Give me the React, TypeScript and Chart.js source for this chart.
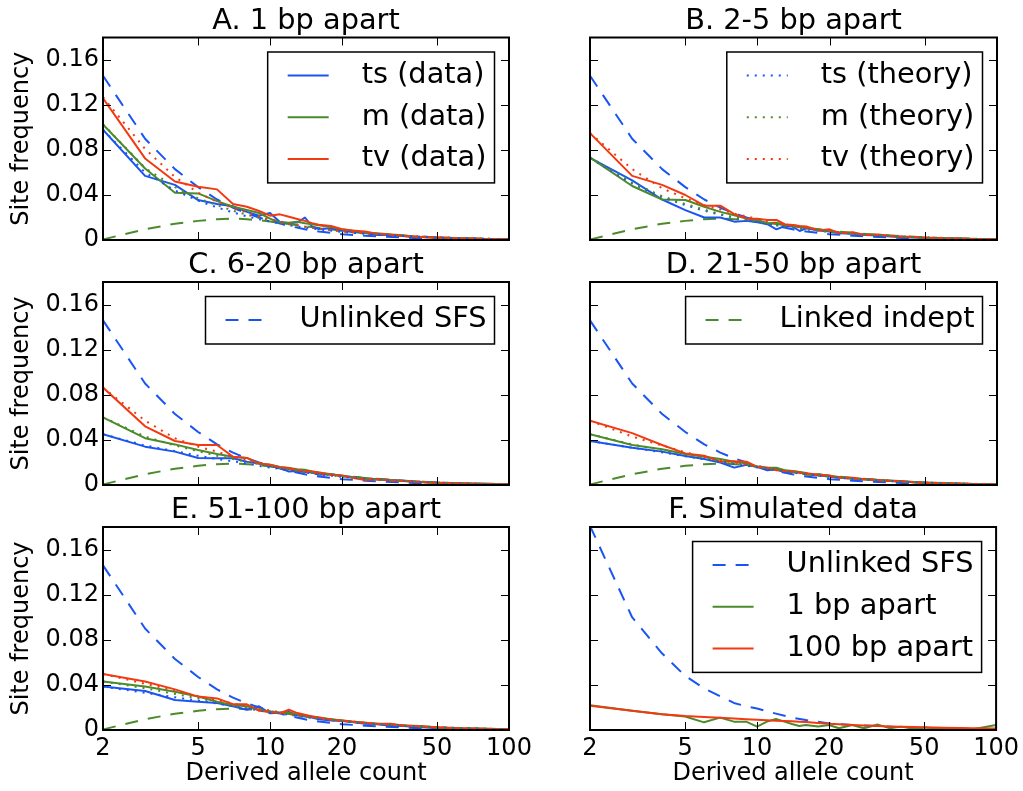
import React, { useEffect, useRef } from 'react';
import { Chart, registerables } from 'chart.js';

Chart.register(...registerables);

const W = 1023;
const H = 791;
const FONT = "'DejaVu Sans', 'Bitstream Vera Sans', sans-serif";
const BLUE = '#1a55f2';
const GREEN = '#4b8b2b';
const RED = '#f23a12';
const SOLID: number[] = [];
const DASHED = [13, 10];
const DOTTED = [2, 6];

// ---------- axes ----------
const X_DATA = [2, 3, 4, 5, 6, 7, 8, 9, 10, 11, 12, 13, 14, 15, 16, 18, 20, 22, 25, 28, 32, 36, 40, 45, 50, 60, 70, 80, 100];
const X_THEORY = [2, 3, 4, 5, 6, 7, 8, 9, 10, 12, 14, 16, 20, 25, 30, 40, 50, 70, 100];
const X_TICKS = [2, 5, 10, 20, 50, 100];
const X_TICK_LABELS = ['2', '5', '10', '20', '50', '100'];
const Y_TICKS = [0, 0.04, 0.08, 0.12, 0.16];
const Y_TICK_LABELS = ['0', '0.04', '0.08', '0.12', '0.16'];
const Y_MAX = 0.18;

// ---------- shared reference curves (panels A-E) ----------
const UNLINKED = [0.146, 0.090, 0.063, 0.047, 0.036, 0.0287, 0.0237, 0.020, 0.017, 0.0125, 0.0095, 0.0075, 0.0052, 0.0038, 0.003, 0.0018, 0.0012, 0.0006, 0.0002];
const LINKED = [0.0005, 0.0095, 0.0145, 0.017, 0.0185, 0.019, 0.0185, 0.0175, 0.0165, 0.0142, 0.0123, 0.0107, 0.0083, 0.0063, 0.005, 0.0033, 0.0023, 0.0012, 0.0004];

// ---------- A. 1 bp apart ----------
const TS_A = [0.098, 0.057, 0.049, 0.0355, 0.032, 0.030, 0.025, 0.0216, 0.024, 0.016, 0.015, 0.0155, 0.020, 0.012, 0.0098, 0.0105, 0.0085, 0.007, 0.0065, 0.0045, 0.0045, 0.0035, 0.0025, 0.0028, 0.0018, 0.0015, 0.0012, 0.0009, 0.0006];
const M_A = [0.1027, 0.0636, 0.042, 0.0414, 0.0346, 0.0296, 0.0266, 0.024, 0.019, 0.0157, 0.0154, 0.0163, 0.0148, 0.014, 0.013, 0.0115, 0.0095, 0.0085, 0.0065, 0.006, 0.0048, 0.0042, 0.003, 0.0027, 0.0022, 0.0018, 0.0013, 0.001, 0.0006];
const TV_A = [0.126, 0.0725, 0.052, 0.0474, 0.045, 0.032, 0.0296, 0.0258, 0.0216, 0.0228, 0.0207, 0.0187, 0.017, 0.015, 0.0135, 0.0125, 0.0095, 0.0085, 0.0075, 0.0055, 0.005, 0.0035, 0.0033, 0.0022, 0.0025, 0.0015, 0.0013, 0.0009, 0.0006];
const TS_A_TH = [0.098, 0.060, 0.044, 0.035, 0.029, 0.0245, 0.021, 0.0185, 0.0165, 0.013, 0.011, 0.0095, 0.0072, 0.0055, 0.0045, 0.003, 0.0022, 0.0013, 0.0006];
const M_A_TH = [0.103, 0.064, 0.047, 0.037, 0.031, 0.026, 0.0225, 0.0198, 0.0176, 0.014, 0.0117, 0.010, 0.0077, 0.0058, 0.0047, 0.0032, 0.0023, 0.0014, 0.0006];
const TV_A_TH = [0.127, 0.081, 0.056, 0.042, 0.034, 0.0285, 0.0245, 0.021, 0.0185, 0.0145, 0.012, 0.0102, 0.0078, 0.0059, 0.0048, 0.0032, 0.0023, 0.0014, 0.0006];

// ---------- B. 2-5 bp apart ----------
const TS_B = [0.073, 0.053, 0.036, 0.0266, 0.020, 0.020, 0.0163, 0.017, 0.0157, 0.014, 0.0095, 0.0124, 0.012, 0.008, 0.0104, 0.0085, 0.0075, 0.006, 0.0055, 0.0045, 0.004, 0.0032, 0.0025, 0.0022, 0.0018, 0.0014, 0.0011, 0.0009, 0.0006];
const M_B = [0.0734, 0.048, 0.036, 0.0355, 0.0296, 0.025, 0.022, 0.019, 0.0178, 0.015, 0.0154, 0.0133, 0.0133, 0.012, 0.011, 0.0095, 0.008, 0.007, 0.006, 0.005, 0.0045, 0.0035, 0.003, 0.0025, 0.002, 0.0016, 0.0012, 0.001, 0.0006];
const TV_B = [0.095, 0.057, 0.049, 0.040, 0.0305, 0.0305, 0.023, 0.019, 0.019, 0.0178, 0.0178, 0.014, 0.0133, 0.0124, 0.012, 0.0085, 0.0095, 0.006, 0.007, 0.0045, 0.005, 0.0035, 0.003, 0.0028, 0.0022, 0.0015, 0.0013, 0.0009, 0.0006];
const TS_B_TH = [0.073, 0.050, 0.038, 0.031, 0.026, 0.0225, 0.0198, 0.0177, 0.016, 0.013, 0.011, 0.0095, 0.0072, 0.0055, 0.0045, 0.003, 0.0022, 0.0013, 0.0006];
const M_B_TH = [0.0735, 0.051, 0.039, 0.032, 0.027, 0.023, 0.020, 0.018, 0.0162, 0.0132, 0.0112, 0.0097, 0.0074, 0.0056, 0.0046, 0.0031, 0.0022, 0.0013, 0.0006];
const TV_B_TH = [0.095, 0.063, 0.046, 0.037, 0.031, 0.027, 0.0235, 0.021, 0.0185, 0.0148, 0.0123, 0.0104, 0.0078, 0.0059, 0.0048, 0.0032, 0.0023, 0.0014, 0.0006];

// ---------- C. 6-20 bp apart ----------
const TS_C = [0.045, 0.034, 0.0296, 0.024, 0.0237, 0.0237, 0.0207, 0.019, 0.017, 0.015, 0.012, 0.0125, 0.0115, 0.011, 0.009, 0.0095, 0.008, 0.007, 0.006, 0.005, 0.0045, 0.0038, 0.003, 0.0025, 0.002, 0.0016, 0.0012, 0.001, 0.0006];
const M_C = [0.060, 0.0415, 0.036, 0.031, 0.0275, 0.025, 0.024, 0.019, 0.018, 0.016, 0.015, 0.014, 0.0135, 0.012, 0.011, 0.0095, 0.008, 0.007, 0.006, 0.005, 0.0045, 0.0036, 0.003, 0.0025, 0.002, 0.0016, 0.0012, 0.001, 0.0006];
const TV_C = [0.0864, 0.052, 0.039, 0.0355, 0.0355, 0.025, 0.024, 0.019, 0.018, 0.0157, 0.015, 0.013, 0.0124, 0.012, 0.011, 0.009, 0.0085, 0.0065, 0.0045, 0.005, 0.004, 0.0035, 0.003, 0.0022, 0.002, 0.0015, 0.0012, 0.0009, 0.0005];
const TS_C_TH = [0.045, 0.035, 0.030, 0.026, 0.023, 0.021, 0.019, 0.017, 0.0155, 0.013, 0.011, 0.0095, 0.0072, 0.0055, 0.0045, 0.003, 0.0021, 0.0012, 0.0005];
const M_C_TH = [0.060, 0.043, 0.035, 0.030, 0.026, 0.023, 0.0205, 0.0185, 0.0167, 0.0137, 0.0115, 0.0098, 0.0074, 0.0056, 0.0046, 0.0031, 0.0022, 0.0012, 0.0005];
const TV_C_TH = [0.0864, 0.057, 0.0415, 0.034, 0.0296, 0.025, 0.022, 0.0195, 0.0175, 0.0142, 0.0118, 0.010, 0.0076, 0.0057, 0.0047, 0.0031, 0.0022, 0.0012, 0.0005];

// ---------- D. 21-50 bp apart ----------
const TS_D = [0.039, 0.033, 0.0296, 0.0258, 0.023, 0.020, 0.0154, 0.018, 0.016, 0.013, 0.014, 0.012, 0.0115, 0.011, 0.0095, 0.0085, 0.0075, 0.0065, 0.0055, 0.005, 0.0042, 0.0035, 0.003, 0.0025, 0.002, 0.0015, 0.0012, 0.0009, 0.0005];
const M_D = [0.045, 0.0355, 0.0317, 0.0275, 0.025, 0.023, 0.0207, 0.019, 0.016, 0.0154, 0.0154, 0.013, 0.0125, 0.0115, 0.009, 0.0095, 0.008, 0.007, 0.006, 0.005, 0.0045, 0.0036, 0.003, 0.0025, 0.002, 0.0015, 0.0012, 0.0009, 0.0005];
const TV_D = [0.057, 0.046, 0.0355, 0.028, 0.026, 0.0207, 0.021, 0.0207, 0.016, 0.0154, 0.013, 0.0125, 0.012, 0.011, 0.0104, 0.009, 0.0085, 0.0065, 0.0065, 0.005, 0.0045, 0.0035, 0.0035, 0.0025, 0.002, 0.0015, 0.0012, 0.0009, 0.0005];
const TS_D_TH = [0.039, 0.033, 0.029, 0.0255, 0.0228, 0.0205, 0.0186, 0.017, 0.0155, 0.013, 0.011, 0.0095, 0.0072, 0.0055, 0.0045, 0.003, 0.0021, 0.0012, 0.0005];
const M_D_TH = [0.045, 0.036, 0.031, 0.027, 0.024, 0.0215, 0.0195, 0.0178, 0.0162, 0.0135, 0.0114, 0.0097, 0.0073, 0.0056, 0.0046, 0.0031, 0.0022, 0.0012, 0.0005];
const TV_D_TH = [0.057, 0.043, 0.035, 0.029, 0.025, 0.022, 0.020, 0.018, 0.0165, 0.0137, 0.0115, 0.0098, 0.0074, 0.0056, 0.0046, 0.0031, 0.0022, 0.0012, 0.0005];

// ---------- E. 51-100 bp apart ----------
const TS_E = [0.0385, 0.0346, 0.0266, 0.025, 0.024, 0.021, 0.018, 0.021, 0.0148, 0.0152, 0.016, 0.013, 0.012, 0.011, 0.0095, 0.0085, 0.008, 0.007, 0.0055, 0.005, 0.0038, 0.0035, 0.0028, 0.0022, 0.0015, 0.0012, 0.001, 0.0008, 0.0005];
const M_E = [0.043, 0.0385, 0.034, 0.0296, 0.025, 0.022, 0.021, 0.018, 0.016, 0.0155, 0.015, 0.014, 0.0125, 0.012, 0.011, 0.0095, 0.0085, 0.0075, 0.0065, 0.0055, 0.0048, 0.004, 0.0035, 0.0028, 0.0022, 0.0015, 0.0012, 0.001, 0.0006];
const TV_E = [0.0497, 0.043, 0.036, 0.0296, 0.028, 0.0228, 0.0228, 0.017, 0.016, 0.015, 0.018, 0.015, 0.0135, 0.012, 0.011, 0.009, 0.0085, 0.0075, 0.0065, 0.0055, 0.0055, 0.004, 0.0038, 0.003, 0.0025, 0.0016, 0.0013, 0.001, 0.0006];
const TS_E_TH = [0.0385, 0.033, 0.029, 0.026, 0.0235, 0.021, 0.019, 0.0175, 0.016, 0.0135, 0.0115, 0.010, 0.0078, 0.006, 0.005, 0.0034, 0.0025, 0.0014, 0.0006];
const M_E_TH = [0.043, 0.037, 0.032, 0.028, 0.025, 0.022, 0.020, 0.0183, 0.0167, 0.014, 0.0118, 0.0102, 0.0079, 0.006, 0.005, 0.0034, 0.0025, 0.0014, 0.0006];
const TV_E_TH = [0.0497, 0.041, 0.035, 0.030, 0.0265, 0.0235, 0.021, 0.019, 0.0173, 0.0144, 0.0121, 0.0104, 0.008, 0.0061, 0.005, 0.0034, 0.0025, 0.0014, 0.0006];

// ---------- F. Simulated data ----------
const SIM_UNLINKED = [0.181, 0.100, 0.068, 0.048, 0.037, 0.030, 0.024, 0.021, 0.019, 0.0145, 0.011, 0.0088, 0.0058, 0.0045, 0.0038, 0.0025, 0.0015, 0.0008, 0.0003];
const SIM_1BP = [0.022, 0.017, 0.014, 0.012, 0.0068, 0.011, 0.0074, 0.0074, 0.003, 0.0074, 0.0098, 0.0074, 0.0053, 0.0036, 0.0045, 0.0032, 0.0044, 0.0015, 0.0045, 0.0015, 0.0048, 0.0015, 0.003, 0.0012, 0.0022, 0.0008, 0.0018, 0.0006, 0.0045];
const SIM_100BP = [0.0216, 0.017, 0.014, 0.0124, 0.0115, 0.0108, 0.0102, 0.0096, 0.009, 0.0086, 0.0083, 0.008, 0.0077, 0.0074, 0.0071, 0.0063, 0.0055, 0.005, 0.0045, 0.004, 0.0036, 0.0032, 0.0029, 0.0026, 0.0024, 0.002, 0.0018, 0.0016, 0.0014];

// ---------- panel builders ----------
type LegendItem = { label: string; color: string; dash: number[] };
type Panel = {
  title: string;
  plot: [number, number, number, number];
  showX: boolean;
  showY: boolean;
  datasets: any[];
  legend: LegendItem[];
};

function series(label: string, xs: number[], ys: number[], color: string, dash: number[], order: number) {
  return {
    label,
    data: xs.map((x, i) => ({ x, y: ys[i] })),
    borderColor: color,
    backgroundColor: color,
    borderWidth: 2,
    borderDash: dash,
    borderCapStyle: 'butt',
    borderJoinStyle: 'round',
    pointRadius: 0,
    pointHoverRadius: 0,
    fill: false,
    tension: 0,
    order,
  };
}

function realPanel(ts: number[], m: number[], tv: number[], tsTh: number[], mTh: number[], tvTh: number[]) {
  return [
    series('tv (theory)', X_THEORY, tvTh, RED, DOTTED, 0),
    series('m (theory)', X_THEORY, mTh, GREEN, DOTTED, 1),
    series('ts (theory)', X_THEORY, tsTh, BLUE, DOTTED, 2),
    series('tv (data)', X_DATA, tv, RED, SOLID, 3),
    series('m (data)', X_DATA, m, GREEN, SOLID, 4),
    series('ts (data)', X_DATA, ts, BLUE, SOLID, 5),
    series('Linked indept', X_THEORY, LINKED, GREEN, DASHED, 6),
    series('Unlinked SFS', X_THEORY, UNLINKED, BLUE, DASHED, 7),
  ];
}

const PANELS: Panel[] = [
  {
    title: 'A. 1 bp apart', plot: [103, 37.5, 509, 240], showX: false, showY: true,
    datasets: realPanel(TS_A, M_A, TV_A, TS_A_TH, M_A_TH, TV_A_TH),
    legend: [
      { label: 'ts (data)', color: BLUE, dash: SOLID },
      { label: 'm (data)', color: GREEN, dash: SOLID },
      { label: 'tv (data)', color: RED, dash: SOLID },
    ],
  },
  {
    title: 'B. 2-5 bp apart', plot: [590, 37.5, 997, 240], showX: false, showY: false,
    datasets: realPanel(TS_B, M_B, TV_B, TS_B_TH, M_B_TH, TV_B_TH),
    legend: [
      { label: 'ts (theory)', color: BLUE, dash: DOTTED },
      { label: 'm (theory)', color: GREEN, dash: DOTTED },
      { label: 'tv (theory)', color: RED, dash: DOTTED },
    ],
  },
  {
    title: 'C. 6-20 bp apart', plot: [103, 282, 509, 485], showX: false, showY: true,
    datasets: realPanel(TS_C, M_C, TV_C, TS_C_TH, M_C_TH, TV_C_TH),
    legend: [{ label: 'Unlinked SFS', color: BLUE, dash: DASHED }],
  },
  {
    title: 'D. 21-50 bp apart', plot: [590, 282, 997, 485], showX: false, showY: false,
    datasets: realPanel(TS_D, M_D, TV_D, TS_D_TH, M_D_TH, TV_D_TH),
    legend: [{ label: 'Linked indept', color: GREEN, dash: DASHED }],
  },
  {
    title: 'E. 51-100 bp apart', plot: [103, 527, 509, 730], showX: true, showY: true,
    datasets: realPanel(TS_E, M_E, TV_E, TS_E_TH, M_E_TH, TV_E_TH),
    legend: [],
  },
  {
    title: 'F. Simulated data', plot: [590, 527, 997, 730], showX: true, showY: false,
    datasets: [
      series('100 bp apart', X_DATA, SIM_100BP, RED, SOLID, 0),
      series('1 bp apart', X_DATA, SIM_1BP, GREEN, SOLID, 1),
      series('Unlinked SFS', X_THEORY, SIM_UNLINKED, BLUE, DASHED, 2),
    ],
    legend: [
      { label: 'Unlinked SFS', color: BLUE, dash: DASHED },
      { label: '1 bp apart', color: GREEN, dash: SOLID },
      { label: '100 bp apart', color: RED, dash: SOLID },
    ],
  },
];

function decorPlugin(p: Panel) {
  return {
    id: 'panelDecor',
    afterDatasetsDraw(chart: any) {
      const { ctx, chartArea: a, scales } = chart;
      const xs = scales.x;
      const ys = scales.y;
      ctx.save();
      // ticks (inward, all four sides)
      ctx.setLineDash([]);
      ctx.strokeStyle = '#000';
      ctx.lineWidth = 1;
      ctx.beginPath();
      for (const v of X_TICKS) {
        const px = Math.round(xs.getPixelForValue(v)) + 0.5;
        ctx.moveTo(px, a.bottom);
        ctx.lineTo(px, a.bottom - 8);
        ctx.moveTo(px, a.top);
        ctx.lineTo(px, a.top + 8);
      }
      for (const v of Y_TICKS) {
        const py = Math.round(ys.getPixelForValue(v)) + 0.5;
        ctx.moveTo(a.left, py);
        ctx.lineTo(a.left + 8, py);
        ctx.moveTo(a.right, py);
        ctx.lineTo(a.right - 8, py);
      }
      ctx.stroke();
      // frame
      ctx.lineWidth = 2;
      ctx.strokeRect(a.left, a.top, a.right - a.left, a.bottom - a.top);
      // title
      ctx.fillStyle = '#000';
      ctx.font = `28.8px ${FONT}`;
      ctx.textAlign = 'center';
      ctx.textBaseline = 'alphabetic';
      ctx.fillText(p.title, (a.left + a.right) / 2, a.top - 9);
      // legend
      if (p.legend.length) {
        const tw = Math.max(...p.legend.map((it) => ctx.measureText(it.label).width));
        const w = 20 + 41 + 33 + tw + 8;
        const h = 47.5 + (p.legend.length - 1) * 41.7;
        const right = a.right - 14.5;
        const top = a.top + 14.5;
        const left = right - w;
        ctx.fillStyle = '#fff';
        ctx.fillRect(left, top, w, h);
        ctx.lineWidth = 1.5;
        ctx.strokeStyle = '#000';
        ctx.strokeRect(left, top, w, h);
        p.legend.forEach((it, i) => {
          const cy = top + 23.5 + i * 41.7;
          ctx.beginPath();
          ctx.setLineDash(it.dash);
          ctx.strokeStyle = it.color;
          ctx.lineWidth = 2;
          ctx.lineCap = 'butt';
          ctx.moveTo(left + 20, cy);
          ctx.lineTo(left + 61, cy);
          ctx.stroke();
          ctx.setLineDash([]);
          ctx.fillStyle = '#000';
          ctx.textAlign = 'left';
          ctx.textBaseline = 'middle';
          ctx.fillText(it.label, left + 94, cy);
        });
      }
      ctx.restore();
    },
  };
}

function makeConfig(p: Panel): any {
  const [pl, pt, pr, pb] = p.plot;
  const yW = p.showY ? pl : 20;
  const xH = p.showX ? H - pb : 10;
  const tickFont = { family: FONT, size: 24 };
  return {
    type: 'line',
    data: { datasets: p.datasets },
    plugins: [decorPlugin(p)],
    options: {
      responsive: false,
      animation: false,
      events: [],
      layout: {
        autoPadding: false,
        padding: { left: pl - yW, top: pt, right: W - pr, bottom: H - pb - xH },
      },
      plugins: {
        legend: { display: false },
        tooltip: { enabled: false },
        title: { display: false },
      },
      scales: {
        x: {
          type: 'logarithmic',
          position: 'bottom',
          min: 2,
          max: 100,
          grid: { display: false, drawTicks: false },
          border: { display: false },
          afterBuildTicks: (s: any) => {
            s.ticks = X_TICKS.map((v) => ({ value: v }));
          },
          afterFit: (s: any) => {
            s.height = xH;
          },
          ticks: {
            display: p.showX,
            autoSkip: false,
            maxRotation: 0,
            minRotation: 0,
            padding: 4,
            color: '#000',
            font: tickFont,
            callback: (v: any) => {
              const i = X_TICKS.indexOf(Number(v));
              return i >= 0 ? X_TICK_LABELS[i] : '';
            },
          },
          title: {
            display: p.showX,
            text: 'Derived allele count',
            color: '#000',
            font: tickFont,
            padding: { top: 0, bottom: 3 },
          },
        },
        y: {
          type: 'linear',
          position: 'left',
          min: 0,
          max: Y_MAX,
          grid: { display: false, drawTicks: false },
          border: { display: false },
          afterBuildTicks: (s: any) => {
            s.ticks = Y_TICKS.map((v) => ({ value: v }));
          },
          afterFit: (s: any) => {
            s.width = yW;
          },
          ticks: {
            display: p.showY,
            padding: 4,
            color: '#000',
            font: tickFont,
            callback: (v: any) => {
              const i = Y_TICKS.findIndex((t) => Math.abs(t - Number(v)) < 1e-9);
              return i >= 0 ? Y_TICK_LABELS[i] : '';
            },
          },
          title: {
            display: p.showY,
            text: 'Site frequency',
            color: '#000',
            font: tickFont,
            padding: { top: 7, bottom: 0 },
          },
        },
      },
    },
  };
}

function PanelChart({ panel }: { panel: Panel }) {
  const ref = useRef<HTMLCanvasElement | null>(null);
  useEffect(() => {
    if (!ref.current) return;
    const chart = new Chart(ref.current, makeConfig(panel));
    return () => chart.destroy();
  }, [panel]);
  return (
    <canvas
      ref={ref}
      width={W}
      height={H}
      style={{ position: 'absolute', left: 0, top: 0, width: W, height: H }}
    />
  );
}

export default function App() {
  return (
    <div
      style={{
        position: 'absolute',
        left: 0,
        top: 0,
        width: W,
        height: H,
        background: '#fff',
        overflow: 'hidden',
      }}
    >
      {PANELS.map((p) => (
        <PanelChart key={p.title} panel={p} />
      ))}
    </div>
  );
}
